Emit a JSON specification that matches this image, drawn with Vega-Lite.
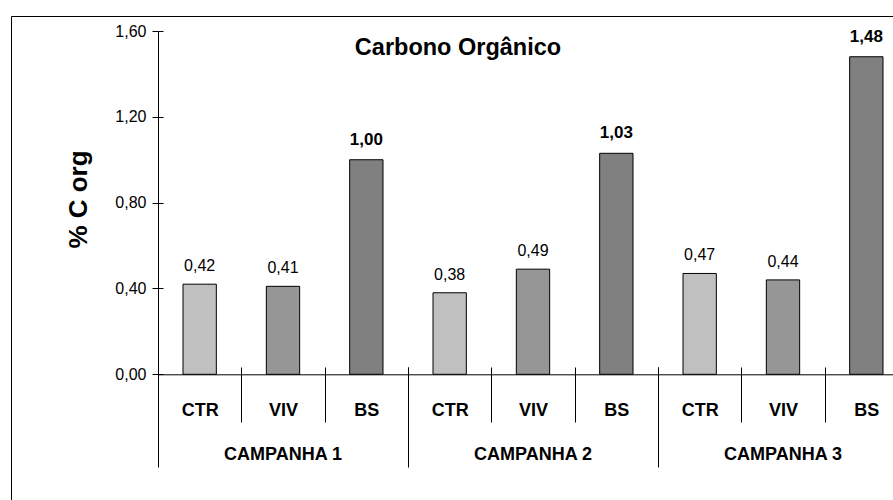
{
  "$schema": "https://vega.github.io/schema/vega-lite/v6.json",
  "width": 894,
  "height": 490,
  "autosize": {"type": "none"},
  "padding": {"left": 11, "top": 16, "right": -12, "bottom": -6},
  "background": "white",
  "title": {"text": "Carbono Orgânico", "anchor": "middle", "frame": "group", "offset": -62, "font": "Liberation Sans", "fontSize": 23.5, "fontWeight": "bold", "color": "black", "baseline": "alphabetic"},
  "data": {"values": [
    {"campanha": "1", "trat": "CTR", "cat": "1|CTR", "valor": 0.42},
    {"campanha": "1", "trat": "VIV", "cat": "1|VIV", "valor": 0.41},
    {"campanha": "1", "trat": "BS", "cat": "1|BS", "valor": 1.00},
    {"campanha": "2", "trat": "CTR", "cat": "2|CTR", "valor": 0.38},
    {"campanha": "2", "trat": "VIV", "cat": "2|VIV", "valor": 0.49},
    {"campanha": "2", "trat": "BS", "cat": "2|BS", "valor": 1.03},
    {"campanha": "3", "trat": "CTR", "cat": "3|CTR", "valor": 0.47},
    {"campanha": "3", "trat": "VIV", "cat": "3|VIV", "valor": 0.44},
    {"campanha": "3", "trat": "BS", "cat": "3|BS", "valor": 1.48}
  ]},
  "config": {
    "locale": {"number": {"decimal": ",", "thousands": ".", "grouping": [3], "currency": ["R$", ""]}},
    "view": {"stroke": "black", "strokeWidth": 1},
    "axis": {"labelFont": "Liberation Sans", "titleFont": "Liberation Sans", "labelColor": "black", "titleColor": "black", "domainColor": "black", "tickColor": "black", "grid": false, "labelOverlap": false, "domainWidth": 1, "tickWidth": 1}
  },
  "resolve": {"axis": {"x": "independent", "y": "independent"}},
  "layer": [
    {
      "mark": {"type": "bar", "stroke": "black", "strokeWidth": 1, "width": {"band": 0.4}},
      "encoding": {
        "x": {"field": "cat", "type": "nominal",
          "scale": {"type": "band", "domain": ["1|CTR","1|VIV","1|BS","2|CTR","2|VIV","2|BS","3|CTR","3|VIV","3|BS"], "range": [147, 897], "paddingInner": 0, "paddingOuter": 0},
          "axis": {"orient": "bottom", "offset": -139, "domain": false, "tickBand": "extent", "tickSize": 55, "labelExpr": "split(datum.label, '|')[1]", "labelFontSize": 18, "labelFontWeight": "bold", "labelBaseline": "alphabetic", "labelPadding": -7, "labelAngle": 0, "title": null}},
        "y": {"field": "valor", "type": "quantitative",
          "scale": {"domain": [0, 1.6], "range": [358.3, 15], "nice": false},
          "axis": {"orient": "left", "offset": -147, "values": [0, 0.4, 0.8, 1.2, 1.6], "format": ".2f", "tickSize": 6, "labelPadding": 6, "labelFontSize": 16, "title": "% C org", "titleFontSize": 26, "titleFontWeight": "bold", "titleX": -72, "titleY": 183, "titleAngle": -90, "titleBaseline": "alphabetic", "titleAlign": "center"}},
        "color": {"field": "trat", "type": "nominal", "scale": {"domain": ["CTR", "VIV", "BS"], "range": ["#C0C0C0", "#969696", "#808080"]}, "legend": null}
      }
    },
    {
      "transform": [{"filter": "datum.trat != 'BS'"}],
      "mark": {"type": "text", "font": "Liberation Sans", "fontSize": 16, "baseline": "alphabetic", "dy": -13, "color": "black"},
      "encoding": {
        "x": {"field": "cat", "type": "nominal",
          "scale": {"type": "band", "domain": ["1|CTR","1|VIV","1|BS","2|CTR","2|VIV","2|BS","3|CTR","3|VIV","3|BS"], "range": [147, 897], "paddingInner": 0, "paddingOuter": 0},
          "axis": {"orient": "bottom", "offset": -139, "values": ["1|CTR", "2|CTR", "3|CTR"], "bandPosition": 0, "tickSize": 100, "labels": false, "domain": false, "title": null}},
        "y": {"field": "valor", "type": "quantitative",
          "axis": {"orient": "right", "offset": -747, "values": [0, 0.4, 0.8, 1.2, 1.6], "tickSize": 5, "labels": false, "domain": false, "title": null}},
        "text": {"field": "valor", "type": "quantitative", "format": ".2f"}
      }
    },
    {
      "transform": [{"filter": "datum.trat == 'BS'"}],
      "mark": {"type": "text", "font": "Liberation Sans", "fontSize": 17, "fontWeight": "bold", "baseline": "alphabetic", "dy": -15, "color": "black"},
      "encoding": {
        "x": {"field": "cat", "type": "nominal",
          "scale": {"type": "band", "domain": ["1|CTR","1|VIV","1|BS","2|CTR","2|VIV","2|BS","3|CTR","3|VIV","3|BS"], "range": [147, 897], "paddingInner": 0, "paddingOuter": 0},
          "axis": {"orient": "bottom", "offset": -131.7, "values": ["1|VIV", "2|VIV", "3|VIV"], "ticks": false, "domain": true, "labelExpr": "'CAMPANHA ' + split(datum.label, '|')[0]", "labelFontSize": 18, "labelFontWeight": "bold", "labelBaseline": "alphabetic", "labelPadding": 85, "labelAngle": 0, "title": null}},
        "y": {"field": "valor", "type": "quantitative", "axis": null},
        "text": {"field": "valor", "type": "quantitative", "format": ".2f"}
      }
    }
  ]
}
